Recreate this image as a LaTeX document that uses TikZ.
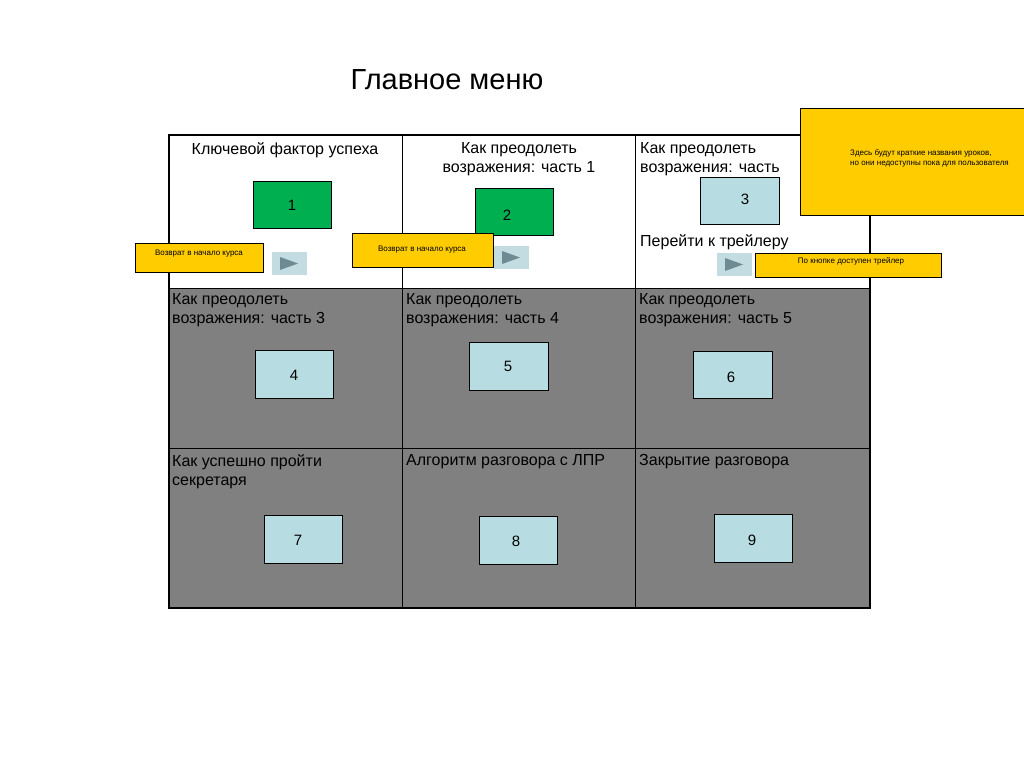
\documentclass[tikz,border=0pt]{standalone}
\usepackage{fontspec}
\setmainfont{Liberation Sans}
\begin{document}
\begin{tikzpicture}[x=1pt,y=-1pt,
 cell/.style={font=\fontsize{16}{19}\selectfont,align=left,anchor=north west,inner sep=0},
 ctext/.style={font=\fontsize{16}{19}\selectfont,align=center,anchor=north,inner sep=0},
 num/.style={font=\fontsize{15}{18}\selectfont},
 note/.style={draw=black,fill=yellow!60!orange!90!white,fill=notey},
 notetext/.style={font=\fontsize{8}{10}\selectfont,inner sep=0}]
\definecolor{notey}{HTML}{FFCC00}
\definecolor{gbox}{HTML}{00B050}
\definecolor{lbox}{HTML}{B7DDE3}
\definecolor{btn}{HTML}{C2DCE2}
\definecolor{tri}{HTML}{6E8A93}
\useasboundingbox (0,0) rectangle (1024,768);
\begin{scope}
\clip (0,0) rectangle (1024,768);
\node (title) at (447,80) {\fontsize{29}{34}\selectfont Главное меню};
\fill[gray!100!black,fill={rgb,255:red,128;green,128;blue,128}] (169,288) rectangle (870,608);
\draw[line width=1.5pt] (169,135) rectangle (870,608);
\draw[line width=1pt] (402,135) -- (402,608) (635,135) -- (635,608)
 (169,288) -- (870,288) (169,448) -- (870,448);
% top row texts
\node[ctext] (t1) at (285,142) {Ключевой фактор успеха};
\node[ctext] (t2) at (519,142) {Как преодолеть\\возражения: часть 1};
\node[cell] (t3) at (640,142) {Как преодолеть\\возражения: часть};
\node[cell] (t3b) at (640,234) {Перейти к трейлеру};
\node[cell] (t4) at (172,293) {Как преодолеть\\возражения: часть 3};
\node[cell] (t5) at (406,293) {Как преодолеть\\возражения: часть 4};
\node[cell] (t6) at (639,293) {Как преодолеть\\возражения: часть 5};
\node[cell] (t7) at (172,454) {Как успешно пройти\\секретаря};
\node[cell] (t8) at (406,454) {Алгоритм разговора с ЛПР};
\node[cell] (t9) at (639,454) {Закрытие разговора};
% boxes
\draw[fill=gbox] (253,181) rectangle (331,228); \node[num] (n1) at (292,205) {1};
\draw[fill=gbox] (475,188) rectangle (553,235); \node[num] (n2) at (507,215) {2};
\draw[fill=lbox] (700,177) rectangle (779,224); \node[num] (n3) at (745,199) {3};
\draw[fill=lbox] (255,350) rectangle (333,398); \node[num] (n4) at (294,375) {4};
\draw[fill=lbox] (469,342) rectangle (548,390); \node[num] (n5) at (508,366) {5};
\draw[fill=lbox] (693,351) rectangle (772,398); \node[num] (n6) at (731,377) {6};
\draw[fill=lbox] (264,515) rectangle (342,563); \node[num] (n7) at (298,540) {7};
\draw[fill=lbox] (479,516) rectangle (557,564); \node[num] (n8) at (516,541) {8};
\draw[fill=lbox] (714,514) rectangle (792,562); \node[num] (n9) at (752,540) {9};
% buttons
\foreach \x/\y in {272/252,494/246,717/253}{
 \fill[btn] (\x,\y) rectangle ++(35,23);
 \fill[tri] (\x+8,\y+5) -- (\x+26,\y+11.5) -- (\x+8,\y+18) -- cycle;}
% notes
\draw[note] (135,243) rectangle (263,272); \node[notetext] (a1) at (199,254) {Возврат в начало курса};
\draw[note] (352,233) rectangle (493,267); \node[notetext] (a2) at (422,250) {Возврат в начало курса};
\draw[note] (755,253) rectangle (941,277); \node[notetext] (a3) at (851,261) {По кнопке доступен трейлер};
\draw[note] (800,108) rectangle (1030,215);
\node[notetext,anchor=north west,align=left] (a4) at (850,149) {Здесь будут краткие названия уроков,\\но они недоступны пока для пользователя};
\end{scope}
\end{tikzpicture}
\end{document}
